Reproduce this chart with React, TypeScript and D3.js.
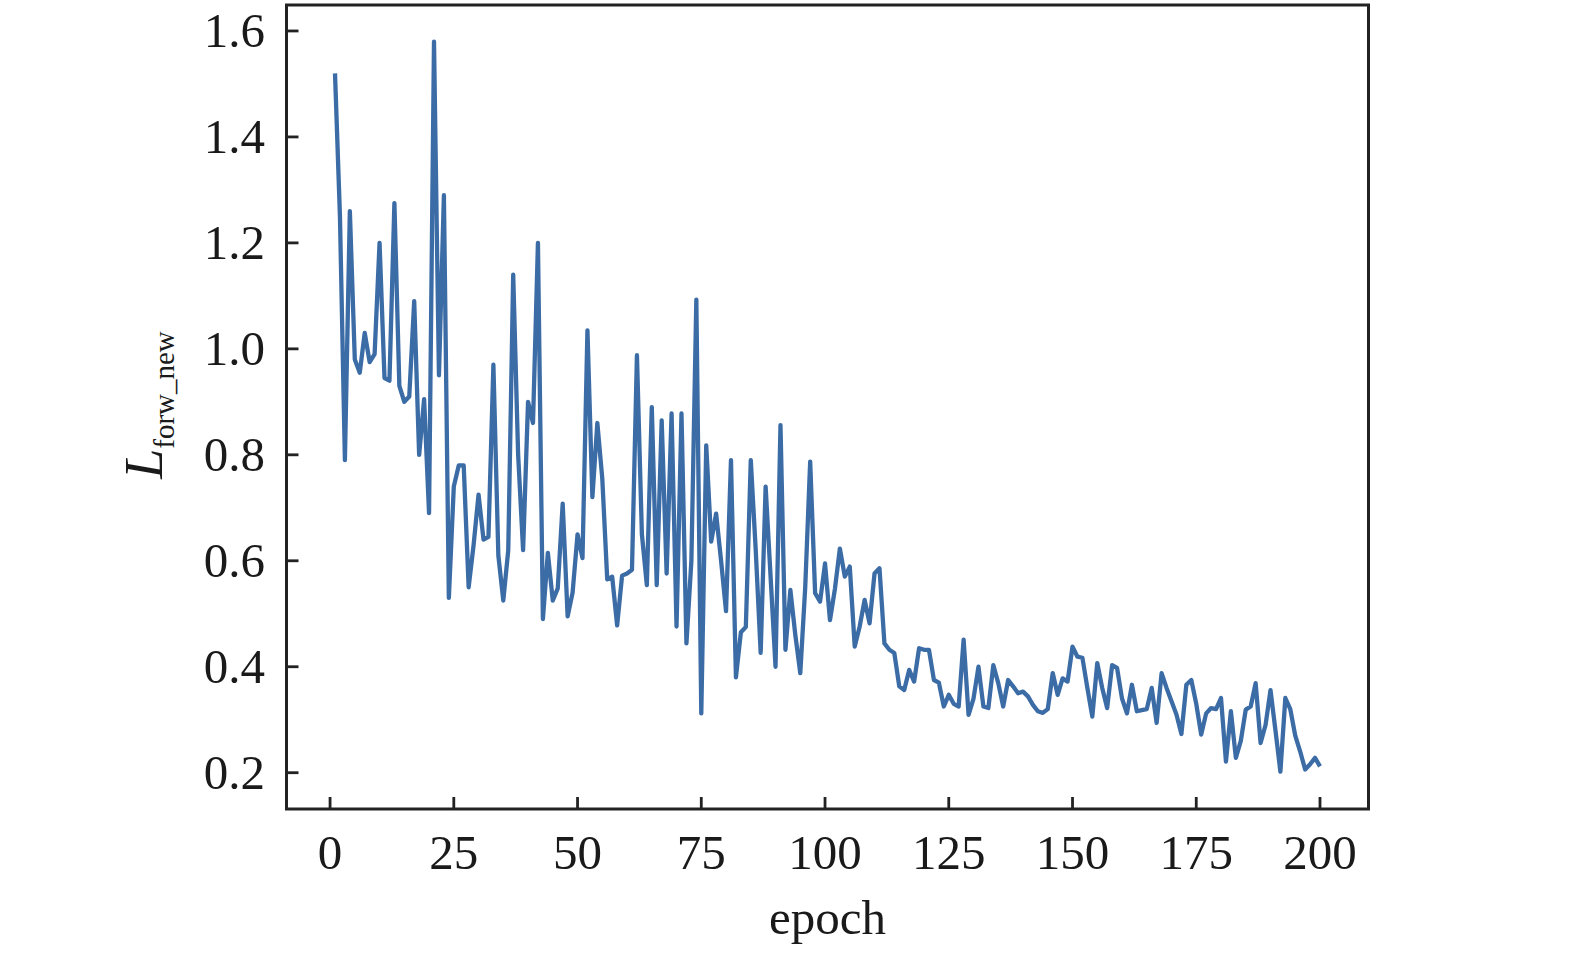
import * as d3 from 'd3';

// loss per epoch, epochs 1..200
const lossValues: number[] = [
  1.52, 1.25, 0.79, 1.26, 0.98, 0.955, 1.03, 0.975, 0.99, 1.2,
  0.945, 0.94, 1.275, 0.93, 0.9, 0.91, 1.09, 0.8, 0.905, 0.69,
  1.58, 0.95, 1.29, 0.53, 0.74, 0.78, 0.78, 0.55, 0.63, 0.725,
  0.64, 0.645, 0.97, 0.61, 0.525, 0.62, 1.14, 0.8, 0.62, 0.9,
  0.86, 1.2, 0.49, 0.615, 0.525, 0.548, 0.708, 0.495, 0.54, 0.65,
  0.605, 1.035, 0.72, 0.86, 0.755, 0.565, 0.57, 0.478, 0.572, 0.576,
  0.583, 0.988, 0.65, 0.554, 0.89, 0.554, 0.865, 0.576, 0.878, 0.476,
  0.878, 0.444, 0.6, 1.093, 0.312, 0.818, 0.636, 0.689, 0.6, 0.505,
  0.79, 0.38, 0.465, 0.475, 0.79, 0.62, 0.426, 0.74, 0.57, 0.4,
  0.856, 0.432, 0.545, 0.46, 0.388, 0.55, 0.787, 0.539, 0.523, 0.595,
  0.488, 0.547, 0.623, 0.57, 0.589, 0.438, 0.476, 0.526, 0.482, 0.576,
  0.586, 0.444, 0.432, 0.426, 0.363, 0.356, 0.394, 0.372, 0.435, 0.432,
  0.432, 0.375, 0.37, 0.325, 0.347, 0.33, 0.325, 0.451, 0.309, 0.34,
  0.4, 0.325, 0.322, 0.403, 0.369, 0.325, 0.375, 0.363, 0.35, 0.353,
  0.344, 0.328, 0.316, 0.313, 0.32, 0.388, 0.347, 0.378, 0.372, 0.438,
  0.419, 0.417, 0.36, 0.306, 0.407, 0.36, 0.322, 0.403, 0.398, 0.34,
  0.312, 0.366, 0.316, 0.318, 0.32, 0.36, 0.294, 0.388, 0.36, 0.335,
  0.31, 0.273, 0.366, 0.375, 0.33, 0.272, 0.312, 0.322, 0.32, 0.341,
  0.221, 0.316, 0.228, 0.26, 0.319, 0.325, 0.369, 0.256, 0.29, 0.356,
  0.28, 0.202, 0.341, 0.32, 0.27, 0.24, 0.206, 0.216, 0.228, 0.212,
];
const epochs: number[] = lossValues.map((_, i) => i + 1);

const xTicks = [0, 25, 50, 75, 100, 125, 150, 175, 200];
const yTicks = [0.2, 0.4, 0.6, 0.8, 1.0, 1.2, 1.4, 1.6];

const W = 1575, H = 955;
const left = 286.5, right = 1368.5, top = 5, bottom = 809;
const font = '"Liberation Serif", "Times New Roman", serif';

export default function App() {
  const x = d3.scaleLinear().domain([-8.8, 209.8]).range([left, right]);
  const y = d3.scaleLinear().domain([0.1315, 1.649]).range([bottom, top]);

  const line = d3.line<number>()
    .x((_, i) => x(epochs[i]))
    .y(d => y(d));

  const tickLen = 12;

  return (
    <svg width={W} height={H} style={{ position: 'absolute', left: 0, top: 0, background: '#fff' }}>
      <path d={line(lossValues) ?? ''} fill="none" stroke="#3c6ca6" strokeWidth={4.3} strokeLinejoin="round" />

      {/* frame */}
      <rect x={left} y={top} width={right - left} height={bottom - top} fill="none" stroke="#222" strokeWidth={3} />

      {/* x ticks, pointing inward */}
      {xTicks.map(t => (
        <g key={'x' + t}>
          <line x1={x(t)} x2={x(t)} y1={bottom} y2={bottom - tickLen} stroke="#222" strokeWidth={2.8} />
          <text x={x(t)} y={869} textAnchor="middle" fontFamily={font} fontSize={49} fill="#1a1a1a">{t}</text>
        </g>
      ))}

      {/* y ticks */}
      {yTicks.map(t => (
        <g key={'y' + t}>
          <line x1={left} x2={left + tickLen} y1={y(t)} y2={y(t)} stroke="#222" strokeWidth={2.8} />
          <text x={265} y={y(t)} dy="0.33em" textAnchor="end" fontFamily={font} fontSize={49} fill="#1a1a1a">{t.toFixed(1)}</text>
        </g>
      ))}

      <text x={(left + right) / 2} y={934} textAnchor="middle" fontFamily={font} fontSize={49} fill="#1a1a1a">epoch</text>

      <text transform="translate(162,405) rotate(-90)" textAnchor="middle" fontFamily={font} fill="#1a1a1a">
        <tspan fontSize={54} fontStyle="italic">L</tspan>
        <tspan fontSize={29} dy={12}>forw_new</tspan>
      </text>
    </svg>
  );
}
